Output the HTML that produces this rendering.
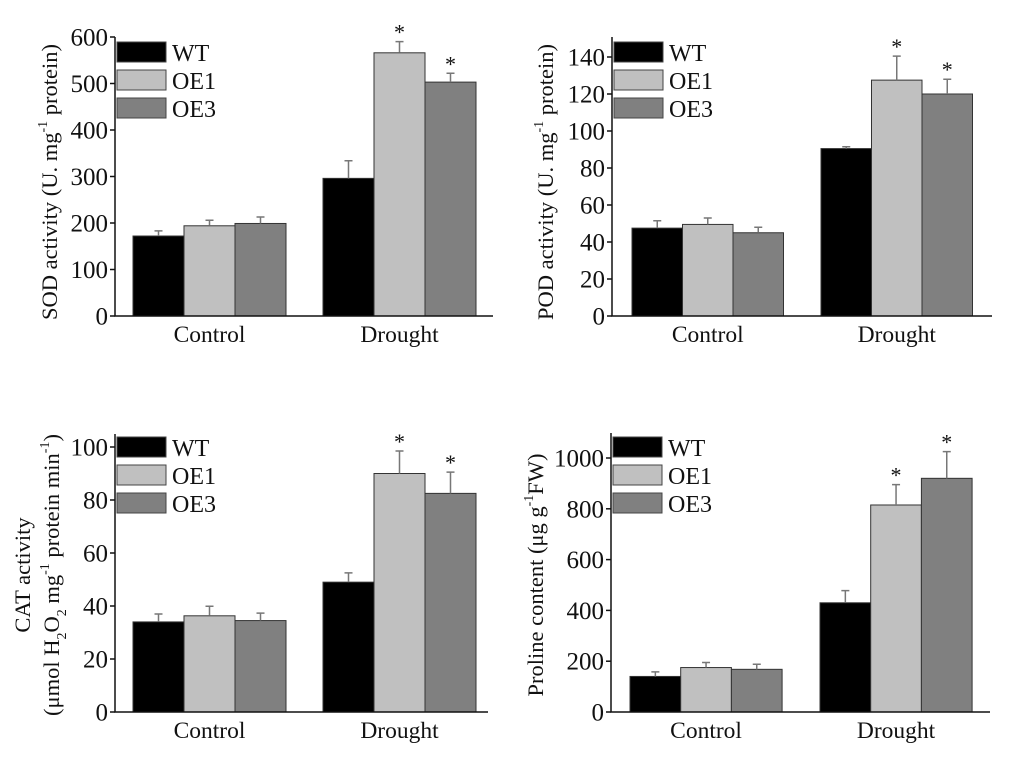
<!DOCTYPE html>
<html><head><meta charset="utf-8"><style>
body{margin:0;background:#fff}
svg text{font-family:"Liberation Serif",serif;fill:#111}
</style></head><body>
<svg id="fig" width="1021" height="778" xmlns="http://www.w3.org/2000/svg"></svg>
<script>
const categories = ["Control","Drought"];
const seriesNames = ["WT","OE1","OE3"];
const sodValues = [[172,296],[194,566],[199,503]];
const sodErrors = [[11,38],[12,24],[14,19]];
const sodStars = [[false,false],[false,true],[false,true]];
const sodTicks = [0,100,200,300,400,500,600];
const podValues = [[47.5,90.5],[49.5,127.5],[45,120]];
const podErrors = [[4,1],[3.5,13],[3,8]];
const podStars = [[false,false],[false,true],[false,true]];
const podTicks = [0,20,40,60,80,100,120,140];
const catValues = [[34,49],[36.3,90],[34.5,82.5]];
const catErrors = [[3,3.5],[3.6,8.5],[2.8,8]];
const catStars = [[false,false],[false,true],[false,true]];
const catTicks = [0,20,40,60,80,100];
const proValues = [[140,430],[175,815],[168,920]];
const proErrors = [[18,48],[20,80],[20,105]];
const proStars = [[false,false],[false,true],[false,true]];
const proTicks = [0,200,400,600,800,1000];

const NS="http://www.w3.org/2000/svg";
const svg=document.getElementById('fig');
const fills=["#000000","#c0c0c0","#808080"];
function mk(tag,attrs,parent){const e=document.createElementNS(NS,tag);for(const k in attrs)e.setAttribute(k,attrs[k]);(parent||svg).appendChild(e);return e;}

function panel(cfg){
  const g=mk('g',{});
  
  
  const y=v=>cfg.y0-(v-0)/(cfg.vRef)*(cfg.y0-cfg.yRef);
  const groupX=[cfg.g0,cfg.g1];
  const bw=cfg.bw;
  cfg.values.forEach((ser,si)=>{
    ser.forEach((v,ci)=>{
      const x=groupX[ci]+si*bw;
      const top=y(v);
      const r=mk('rect',{x:x,y:top,width:bw,height:cfg.y0-top,fill:fills[si],stroke:"#333","stroke-width":1},g);
      
      
      const e=cfg.errors[si][ci];
      const cx=x+bw/2, ey=y(v+e);
      const eb=mk('path',{d:`M${cx},${top}V${ey}M${cx-4},${ey}H${cx+4}`,stroke:"#777","stroke-width":1.5,fill:"none"},g);
      
      
      if(cfg.stars[si][ci]){
        const s=mk('text',{x:cx,y:ey-2,'text-anchor':'middle','font-size':22},g);
        s.textContent='*';
        
        
      }
    });
  });
  const ax=mk('path',{d:`M${cfg.x0},${cfg.yTop}V${cfg.y0}H${cfg.xR}`,stroke:"#111","stroke-width":1.5,fill:"none"},g);
  
  
  cfg.ticks.forEach(t=>{
    const ty=y(t);
    mk('line',{x1:cfg.x0-5,x2:cfg.x0,y1:ty,y2:ty,stroke:"#111","stroke-width":1.5},g);
    const tl=mk('text',{x:cfg.x0-7,y:ty+8.5,'text-anchor':'end','font-size':25},g);
    tl.textContent=t;
    
    
  });
  categories.forEach((c,ci)=>{
    const cx=groupX[ci]+1.5*bw;
    const cl=mk('text',{x:cx,y:cfg.y0+26,'text-anchor':'middle','font-size':23.5},g);
    cl.textContent=c;
    
    
  });
  seriesNames.forEach((n,si)=>{
    const ly=cfg.legY+si*28;
    const lr=mk('rect',{x:cfg.x0+2,y:ly,width:49,height:20,fill:fills[si],stroke:"#444","stroke-width":1},g);
    
    
    const lt=mk('text',{x:cfg.x0+57,y:ly+19,'font-size':24},g);
    lt.textContent=n;
    
    
  });
  const tt=mk('text',{transform:`translate(${cfg.titleX},${cfg.titleY}) rotate(-90)`,'text-anchor':'middle','font-size':22.5},g);
  
  
  tt.innerHTML=cfg.title;
  if(cfg.title2){
    const t2=mk('text',{transform:`translate(${cfg.titleX+29},${cfg.titleY}) rotate(-90)`,'text-anchor':'middle','font-size':22.5},g);
    
    
    t2.innerHTML=cfg.title2;
  }
}
const sup='<tspan dy="-10" font-size="14">-1</tspan><tspan dy="10"> </tspan>';
panel({name:'sod-panel',values:sodValues,errors:sodErrors,stars:sodStars,ticks:sodTicks,
  x0:115,xR:493,y0:316,yTop:37,yRef:37,vRef:600,g0:133,g1:323,bw:51,legY:42,titleX:57,titleY:182,
  title:'SOD activity (U. mg'+sup+'protein)'});
panel({name:'pod-panel',values:podValues,errors:podErrors,stars:podStars,ticks:podTicks,
  x0:612,xR:992,y0:316,yTop:37,yRef:57,vRef:140,g0:632,g1:821,bw:50.5,legY:42,titleX:553,titleY:182,
  title:'POD activity (U. mg'+sup+'protein)'});
panel({name:'cat-panel',values:catValues,errors:catErrors,stars:catStars,ticks:catTicks,
  x0:115,xR:488,y0:712,yTop:434,yRef:447,vRef:100,g0:133,g1:323,bw:51,legY:437,titleX:30,titleY:575,
  title:'CAT activity',
  title2:'(μmol H<tspan dy="7" font-size="14">2</tspan><tspan dy="-7">O</tspan><tspan dy="7" font-size="14">2</tspan><tspan dy="-7"> mg</tspan><tspan dy="-10" font-size="14">-1</tspan><tspan dy="10"> protein min</tspan><tspan dy="-10" font-size="14">-1</tspan><tspan dy="10">)</tspan>'});
panel({name:'proline-panel',values:proValues,errors:proErrors,stars:proStars,ticks:proTicks,
  x0:611,xR:990,y0:712,yTop:433,yRef:458,vRef:1000,g0:630,g1:820,bw:50.7,legY:437,titleX:543,titleY:575,
  title:'Proline content (μg g'+'<tspan dy="-10" font-size="14">-1</tspan><tspan dy="10">FW)</tspan>'});
</script>
</body></html>
